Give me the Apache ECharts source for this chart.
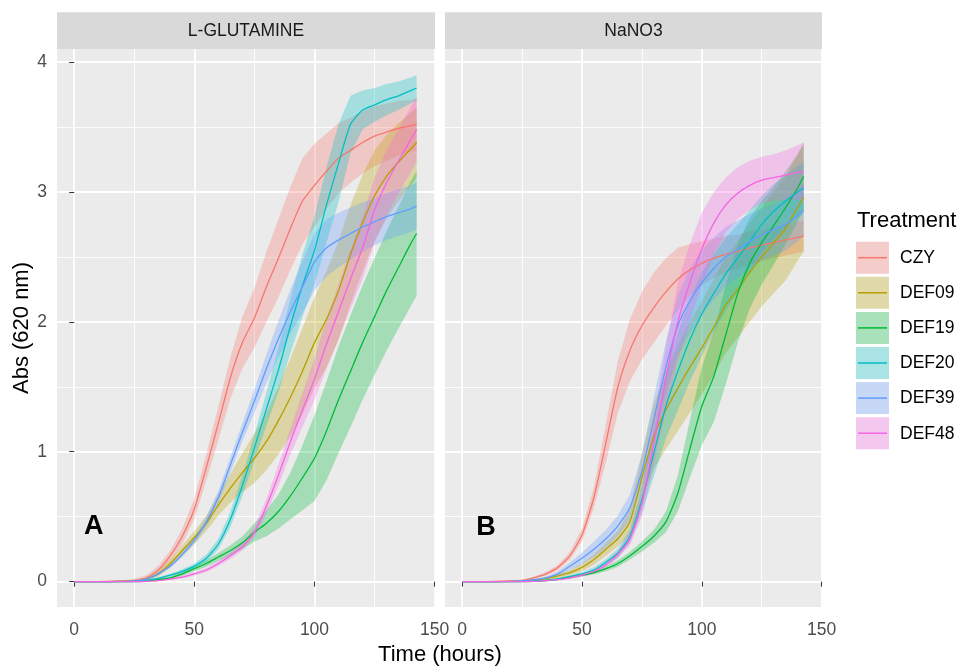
<!DOCTYPE html>
<html><head><meta charset="utf-8">
<script src="https://cdn.jsdelivr.net/npm/echarts@6/dist/echarts.min.js"></script>
<style>html,body{margin:0;padding:0;background:#fff}#c{width:962px;height:666px}</style>
</head><body><div id="c"></div>
<script>
// ---------- data ----------
const hours = [0,10,20,25,30,35,40,45,50,55,60,65,70,75,80,85,90,95,100,105,110,115,120,125,130,135,140,142.5];
const treatments = ['CZY','DEF09','DEF19','DEF20','DEF39','DEF48'];
const facets = ['L-GLUTAMINE','NaNO3'];
const panelLetters = ['A','B'];
const xTicks = [0,50,100,150];
const xMinorTicks = [25,75,125];
const yTicks = [0,1,2,3,4];
const yMinorTicks = [0.5,1.5,2.5,3.5];

// Panel A: L-GLUTAMINE (mean, half-width of ribbon)
const czyA     = [0,0,0.005,0.01,0.03,0.09,0.2,0.35,0.56,0.88,1.22,1.57,1.84,2.03,2.27,2.49,2.72,2.93,3.05,3.16,3.26,3.32,3.38,3.43,3.46,3.49,3.51,3.52];
const czyAerr  = [0,0,0.005,0.01,0.02,0.03,0.04,0.06,0.08,0.1,0.13,0.16,0.2,0.23,0.27,0.3,0.32,0.33,0.32,0.29,0.27,0.25,0.24,0.23,0.22,0.21,0.2,0.2];
const def09A   = [0,0,0.002,0.005,0.02,0.06,0.14,0.24,0.34,0.45,0.59,0.72,0.84,0.95,1.08,1.24,1.42,1.62,1.84,2.02,2.24,2.52,2.76,2.97,3.12,3.23,3.33,3.38];
const def09Aerr= [0,0,0.002,0.005,0.01,0.02,0.03,0.04,0.05,0.06,0.08,0.11,0.15,0.19,0.22,0.26,0.3,0.33,0.35,0.37,0.38,0.38,0.37,0.35,0.32,0.3,0.28,0.27];
const def19A   = [0,0,0,0,0.005,0.015,0.03,0.06,0.1,0.14,0.19,0.24,0.3,0.38,0.45,0.54,0.66,0.8,0.95,1.16,1.4,1.62,1.84,2.04,2.24,2.42,2.6,2.68];
const def19Aerr= [0,0,0,0,0.005,0.01,0.01,0.015,0.02,0.025,0.03,0.04,0.05,0.07,0.1,0.13,0.18,0.25,0.33,0.38,0.41,0.43,0.44,0.45,0.46,0.47,0.48,0.48];
const def20A   = [0,0,0.001,0.003,0.01,0.025,0.05,0.08,0.12,0.18,0.29,0.48,0.74,1.03,1.33,1.63,1.97,2.28,2.55,2.9,3.22,3.52,3.63,3.67,3.71,3.74,3.78,3.8];
const def20Aerr= [0,0,0.001,0.003,0.005,0.01,0.01,0.015,0.02,0.03,0.04,0.06,0.08,0.1,0.13,0.17,0.21,0.24,0.26,0.29,0.3,0.22,0.15,0.13,0.12,0.11,0.1,0.1];
const def39A   = [0,0,0.002,0.005,0.02,0.06,0.12,0.21,0.32,0.46,0.65,0.9,1.15,1.39,1.64,1.87,2.08,2.27,2.46,2.57,2.63,2.68,2.73,2.77,2.81,2.84,2.87,2.89];
const def39Aerr= [0,0,0.002,0.005,0.005,0.01,0.015,0.02,0.03,0.04,0.05,0.06,0.07,0.09,0.11,0.14,0.17,0.2,0.22,0.22,0.21,0.2,0.19,0.18,0.18,0.18,0.18,0.18];
const def48A   = [0,0,0,0,0.003,0.008,0.02,0.035,0.06,0.09,0.14,0.2,0.27,0.38,0.58,0.82,1.08,1.32,1.56,1.83,2.08,2.33,2.57,2.86,3.07,3.24,3.4,3.48];
const def48Aerr= [0,0,0,0,0.003,0.005,0.008,0.01,0.012,0.015,0.02,0.025,0.03,0.04,0.06,0.08,0.1,0.13,0.16,0.19,0.21,0.23,0.24,0.25,0.25,0.25,0.25,0.25];

// Panel B: NaNO3
const czyB     = [0,0,0.005,0.01,0.03,0.06,0.11,0.2,0.36,0.65,1.07,1.5,1.78,1.97,2.11,2.23,2.33,2.4,2.45,2.49,2.52,2.54,2.57,2.59,2.61,2.63,2.65,2.66];
const czyBerr  = [0,0,0.005,0.005,0.01,0.015,0.02,0.03,0.05,0.08,0.15,0.2,0.24,0.26,0.27,0.26,0.24,0.2,0.17,0.15,0.14,0.13,0.13,0.12,0.12,0.12,0.12,0.12];
const def09B   = [0,0,0.002,0.005,0.01,0.025,0.045,0.07,0.11,0.17,0.25,0.33,0.46,0.8,1.12,1.32,1.49,1.65,1.8,1.96,2.13,2.25,2.38,2.5,2.61,2.72,2.88,2.96];
const def09Berr= [0,0,0.002,0.005,0.005,0.01,0.015,0.02,0.03,0.04,0.05,0.06,0.1,0.18,0.25,0.3,0.33,0.35,0.36,0.37,0.37,0.37,0.38,0.38,0.39,0.4,0.41,0.42];
const def19B   = [0,0,0,0.001,0.003,0.01,0.02,0.035,0.05,0.07,0.1,0.14,0.2,0.27,0.35,0.46,0.68,1.02,1.35,1.58,1.9,2.22,2.45,2.61,2.74,2.88,3.03,3.12];
const def19Berr= [0,0,0,0.001,0.003,0.01,0.01,0.01,0.01,0.015,0.02,0.025,0.03,0.04,0.05,0.08,0.14,0.22,0.3,0.35,0.38,0.38,0.35,0.32,0.3,0.28,0.26,0.25];
const def20B   = [0,0,0.001,0.002,0.005,0.01,0.02,0.04,0.06,0.09,0.15,0.22,0.35,0.63,0.99,1.35,1.62,1.86,2.06,2.22,2.37,2.49,2.62,2.75,2.85,2.93,3.0,3.03];
const def20Berr= [0,0,0.001,0.002,0.005,0.005,0.008,0.01,0.015,0.02,0.025,0.035,0.05,0.1,0.18,0.25,0.3,0.32,0.32,0.3,0.28,0.26,0.24,0.22,0.21,0.2,0.2,0.2];
const def39B   = [0,0,0.002,0.005,0.015,0.03,0.06,0.12,0.18,0.25,0.33,0.43,0.57,0.85,1.25,1.65,1.97,2.16,2.3,2.41,2.5,2.56,2.62,2.67,2.71,2.75,2.82,2.86];
const def39Berr= [0,0,0.002,0.005,0.005,0.01,0.02,0.03,0.045,0.06,0.07,0.08,0.1,0.13,0.17,0.2,0.23,0.25,0.25,0.24,0.23,0.22,0.21,0.2,0.2,0.2,0.2,0.2];
const def48B   = [0,0,0,0.001,0.003,0.008,0.015,0.03,0.05,0.08,0.13,0.21,0.33,0.6,1.07,1.56,2.0,2.3,2.56,2.76,2.9,2.99,3.05,3.09,3.11,3.13,3.15,3.16];
const def48Berr= [0,0,0,0.001,0.003,0.005,0.005,0.01,0.012,0.015,0.02,0.03,0.05,0.1,0.18,0.25,0.3,0.3,0.28,0.24,0.21,0.2,0.19,0.18,0.18,0.19,0.21,0.22];

const panelMeans = [[czyA,def09A,def19A,def20A,def39A,def48A],[czyB,def09B,def19B,def20B,def39B,def48B]];
const panelErrs  = [[czyAerr,def09Aerr,def19Aerr,def20Aerr,def39Aerr,def48Aerr],[czyBerr,def09Berr,def19Berr,def20Berr,def39Berr,def48Berr]];

// ---------- style ----------
const colors = ['#F8766D','#B79F00','#00BA38','#00BFC4','#619CFF','#F564E3'];
const FONT = "'Liberation Sans', Arial, sans-serif";
const ALPHA = 0.3;
function rgba(hex, a){const n=parseInt(hex.slice(1),16);return `rgba(${n>>16&255},${n>>8&255},${n&255},${a})`;}

const grids = [
  {left:57, top:49, width:378, height:558},
  {left:445, top:49, width:377, height:558}
];
const X_MIN=-7.15, X_MAX=150.15, Y_MIN=-0.195, Y_MAX=4.1;

const xAxes=[], yAxes=[];
grids.forEach((g,p)=>{
  xAxes.push({type:'value', gridIndex:p, min:X_MIN, max:X_MAX,
    axisLine:{show:false},
    axisTick:{show:true, customValues:xTicks, length:5, lineStyle:{color:'#333333', width:1}},
    axisLabel:{show:true, customValues:xTicks, color:'#4D4D4D', fontSize:17.5, fontFamily:FONT, margin:14},
    splitLine:{show:true, lineStyle:{color:'#FFFFFF', width:1.8}},
    minorTick:{show:false}, minorSplitLine:{show:false}});
  yAxes.push({type:'value', gridIndex:p, min:Y_MIN, max:Y_MAX,
    axisLine:{show:false},
    axisTick:{show:p===0, customValues:yTicks, length:5, lineStyle:{color:'#333333', width:1}},
    axisLabel:{show:p===0, customValues:yTicks, color:'#4D4D4D', fontSize:17.5, fontFamily:FONT, margin:10},
    splitLine:{show:true, lineStyle:{color:'#FFFFFF', width:1.8}}});
});
grids.forEach((g,p)=>{
  xAxes.push({type:'value', gridIndex:p, min:X_MIN, max:X_MAX, axisLine:{show:false},
    axisTick:{show:false, customValues:xMinorTicks}, axisLabel:{show:false, customValues:xMinorTicks},
    splitLine:{show:true, lineStyle:{color:'#FFFFFF', width:0.9}}});
  yAxes.push({type:'value', gridIndex:p, min:Y_MIN, max:Y_MAX, axisLine:{show:false},
    axisTick:{show:false, customValues:yMinorTicks}, axisLabel:{show:false, customValues:yMinorTicks},
    splitLine:{show:true, lineStyle:{color:'#FFFFFF', width:0.9}}});
});

const series=[];
for(let p=0;p<2;p++){
  for(let i=0;i<treatments.length;i++){
    const m=panelMeans[p][i], e=panelErrs[p][i];
    const band = hours.map((h,k)=>[h, m[k]-e[k], m[k]+e[k]]);
    const fill = rgba(colors[i],ALPHA);
    series.push({type:'custom', name:treatments[i]+' ribbon', xAxisIndex:p, yAxisIndex:p,
      data:band, encode:{x:0, y:[1,2]}, clip:true, silent:true, z:1,
      renderItem:(params, api)=>{
        if(params.dataIndex!==0) return null;
        const pts=[];
        for(let k=0;k<band.length;k++) pts.push(api.coord([band[k][0], band[k][2]]));
        for(let k=band.length-1;k>=0;k--) pts.push(api.coord([band[k][0], band[k][1]]));
        return {type:'polygon', shape:{points:pts}, style:{fill:fill, stroke:null}};
      }});
  }
  for(let i=0;i<treatments.length;i++){
    series.push({type:'line', name:treatments[i], xAxisIndex:p, yAxisIndex:p,
      data:hours.map((h,k)=>[h, panelMeans[p][i][k]]), symbol:'none', smooth:0.2,
      lineStyle:{color:colors[i], width:1.3}, silent:true, z:3});
  }
}

// ---------- graphics: strips, titles, legend, panel letters ----------
const graphic=[];
grids.forEach((g,p)=>{
  graphic.push({type:'rect', shape:{x:g.left, y:12.3, width:g.width, height:36.7}, style:{fill:'#D9D9D9'}, silent:true});
  graphic.push({type:'text', x:g.left+g.width/2, y:31, style:{text:facets[p], fill:'#1A1A1A', fontSize:17.5, fontFamily:FONT, align:'center', verticalAlign:'middle'}, silent:true});
});
graphic.push({type:'text', x:440, y:655, style:{text:'Time (hours)', fill:'#000', fontSize:22, fontFamily:FONT, align:'center', verticalAlign:'middle'}});
graphic.push({type:'text', x:22, y:328, rotation:Math.PI/2, style:{text:'Abs (620 nm)', fill:'#000', fontSize:22, fontFamily:FONT, align:'center', verticalAlign:'middle'}});
graphic.push({type:'text', x:93.8, y:527, style:{text:panelLetters[0], fill:'#000', fontSize:27, fontWeight:'bold', fontFamily:FONT, align:'center', verticalAlign:'middle'}, z:10});
graphic.push({type:'text', x:486, y:527.5, style:{text:panelLetters[1], fill:'#000', fontSize:27, fontWeight:'bold', fontFamily:FONT, align:'center', verticalAlign:'middle'}, z:10});
graphic.push({type:'text', x:857, y:221, style:{text:'Treatment', fill:'#000', fontSize:22, fontFamily:FONT, align:'left', verticalAlign:'middle'}});
treatments.forEach((t,i)=>{
  const y0=241.7+i*35.1;
  graphic.push({type:'rect', shape:{x:856, y:y0, width:33, height:32}, style:{fill:'#F2F2F2'}, silent:true});
  graphic.push({type:'rect', shape:{x:856, y:y0, width:33, height:32}, style:{fill:rgba(colors[i],ALPHA)}, silent:true});
  graphic.push({type:'line', shape:{x1:858, y1:y0+16, x2:887, y2:y0+16}, style:{stroke:colors[i], lineWidth:1.5}, silent:true});
  graphic.push({type:'text', x:900, y:y0+16.5, style:{text:t, fill:'#000', fontSize:17.5, fontFamily:FONT, align:'left', verticalAlign:'middle'}});
});

const chart=echarts.init(document.getElementById('c'),null,{renderer:'canvas'});
chart.setOption({
  animation:false,
  backgroundColor:'#FFFFFF',
  grid:grids.map(g=>Object.assign({show:true, backgroundColor:'#EBEBEB', borderWidth:0, containLabel:false, outerBoundsMode:'none'},g)),
  xAxis:xAxes, yAxis:yAxes, series, graphic
});
</script></body></html>
